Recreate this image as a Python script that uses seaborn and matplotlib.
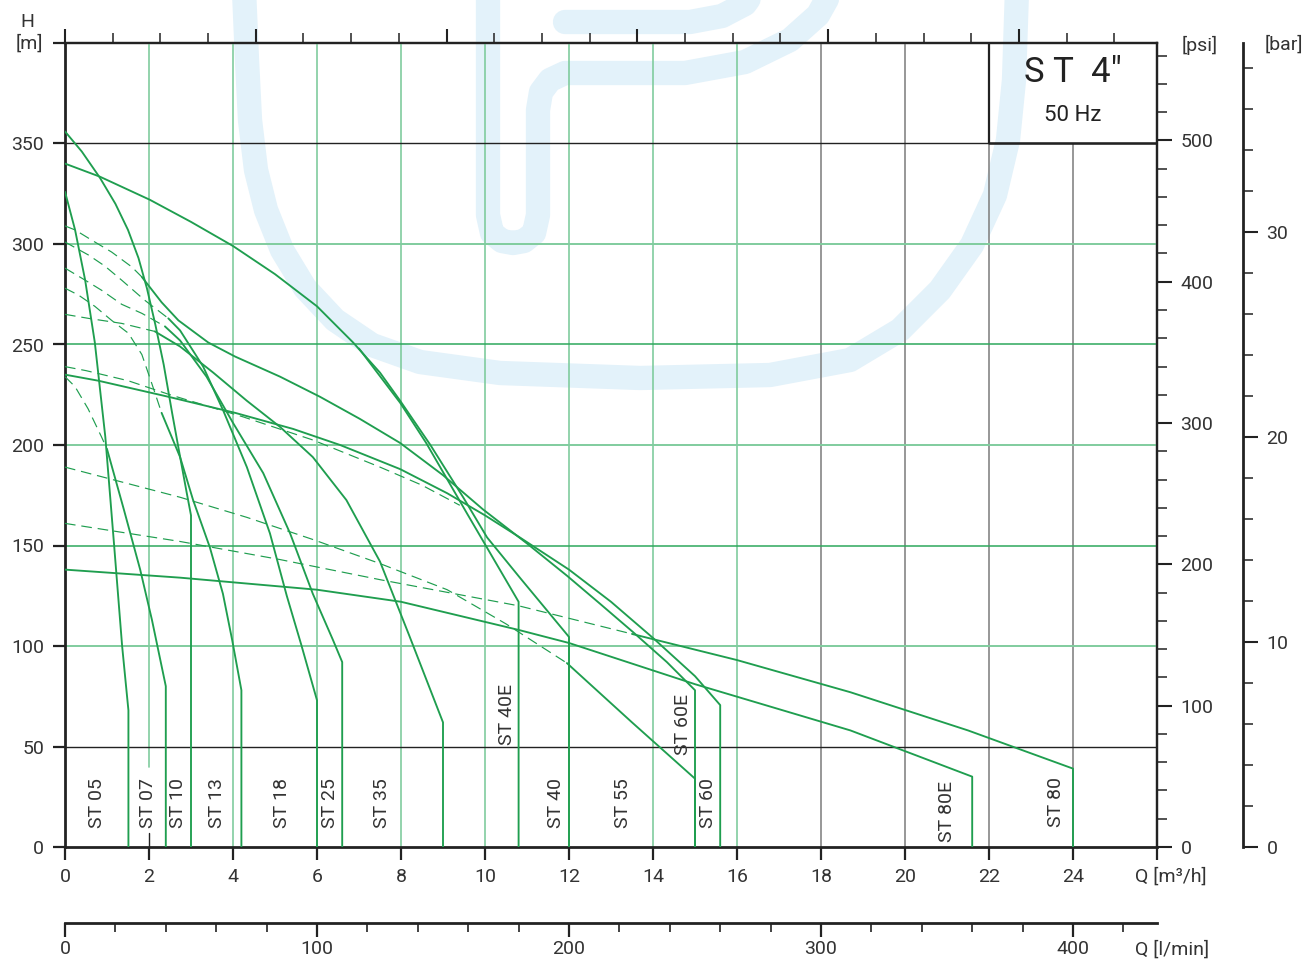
import matplotlib
matplotlib.use("Agg")
import matplotlib.pyplot as plt
from matplotlib.lines import Line2D
from matplotlib.ticker import MultipleLocator
import seaborn as sns

# ---------------- data (Q in m3/h, H in m) ----------------
ST05_Q = [0, 0.24, 0.48, 0.71, 0.96, 1.17, 1.36, 1.51, 1.51]
ST05_H = [326, 307, 282, 251, 204, 150, 100, 68, 0]

ST07_QD = [0, 0.24, 0.55, 0.87, 1.0]
ST07_HD = [234, 229, 218, 204, 198]
ST07_Q = [1.0, 1.4, 1.79, 2.07, 2.4, 2.4]
ST07_H = [198, 168, 138, 113, 80, 0]

ST10_Q = [0, 0.4, 0.83, 1.2, 1.5, 1.75, 1.95, 2.15, 2.35, 2.55, 2.75, 2.9, 3.0, 3.0]
ST10_H = [356, 346, 333, 320, 307, 293, 278, 260, 240, 216, 193, 176, 165, 0]

ST13_QD = [0, 0.32, 0.71, 1.11, 1.51, 1.83, 2.06, 2.3]
ST13_HD = [278, 274.6, 269, 262, 255.6, 245, 231, 216]
ST13_Q = [2.3, 2.74, 3.05, 3.45, 3.76, 3.98, 4.2, 4.2]
ST13_H = [216, 194, 172.6, 149, 126, 103, 78, 0]

ST18_QD = [0, 0.56, 0.95, 1.35, 1.9, 2.46]
ST18_HD = [301, 294.5, 289, 282, 272, 263]
ST18_Q = [2.46, 2.74, 3.29, 3.77, 4.33, 4.88, 5.28, 5.62, 6.0, 6.0]
ST18_H = [263, 257, 239, 217, 189, 156, 125, 101, 73, 0]

ST25_QD = [0, 0.48, 0.87, 1.35, 1.83, 2.38]
ST25_HD = [288, 282, 277, 270, 265.5, 259]
ST25_Q = [2.38, 2.74, 3.37, 4.0, 4.72, 5.36, 5.9, 6.38, 6.6, 6.6]
ST25_H = [259, 252, 234, 211, 186, 156, 126, 103, 92, 0]

ST35_QD = [0, 0.56, 1.35, 2.14]
ST35_HD = [265, 263, 260.5, 256.5]
ST35_Q = [2.14, 2.74, 3.53, 4.33, 5.12, 5.9, 6.7, 7.5, 8.2, 9.0, 9.0]
ST35_H = [256.5, 249, 236, 222, 209, 194, 172.6, 142, 105, 62, 0]

ST40_Q = [0, 0.83, 2.02, 3.0, 4.0, 5.0, 6.0, 6.86, 7.5, 7.98, 8.7, 9.48, 10.05, 10.83, 12.0, 12.0]
ST40_H = [340, 333.5, 322, 311, 299, 285, 269, 251, 236, 222, 200, 174, 154, 134, 104.5, 0]

ST40E_Q = [7.0, 7.98, 8.6, 9.57, 10.8, 10.8]
ST40E_H = [248, 221, 201, 166, 122, 0]

ST55_QD = [0, 2.74, 4.33, 5.9, 7.5, 9.1, 10.5, 11.95]
ST55_HD = [189, 174, 164, 153, 141, 128, 111, 91.5]
ST55_Q = [11.95, 13.5, 15.0, 15.0]
ST55_H = [91.5, 62, 34, 0]

ST60E_QD = [0, 0.24, 0.63, 1.11, 1.59, 1.83]
ST60E_HD = [309, 307, 302, 296, 288.6, 283.6]
ST60E_Q = [1.83, 2.3, 2.7, 3.41, 4.05, 5.12, 6.07, 7.02, 7.98, 9.0, 9.95, 11.0, 11.95, 12.74, 13.52, 14.33, 15.0, 15.0]
ST60E_H = [283.6, 271, 262, 251, 244, 234, 224, 213, 201, 185, 168, 151, 135, 121, 107, 92, 78, 0]

ST60_Q = [0, 0.79, 2.46, 4.05, 5.43, 6.55, 7.98, 9.1, 10.0, 10.83, 12.0, 13.0, 14.0, 15.0, 15.6, 15.6]
ST60_H = [235, 232, 224, 216, 208, 200, 188, 176, 165, 154, 138, 122, 104, 85, 70.6, 0]

AUX_QD = [0, 0.5, 1.5, 2.5, 4.24, 5.9, 7.5, 8.5, 9.4]
AUX_HD = [239, 237, 232, 225, 214, 202.5, 189, 180, 170]

ST80E_Q = [0, 2.74, 6.0, 8.0, 10.8, 12.0, 15.0, 18.7, 21.6, 21.6]
ST80E_H = [138, 134, 128, 122, 108, 101.5, 81, 58, 35, 0]

ST80_QD = [0, 2.74, 5.12, 7.5, 10.8, 13.5]
ST80_HD = [161, 152, 143, 133, 120, 106]
ST80_Q = [13.5, 16.0, 18.7, 21.5, 24.0, 24.0]
ST80_H = [106, 93, 77, 58, 39, 0]

MODEL_NAMES = ["ST 05", "ST 07", "ST 10", "ST 13", "ST 18", "ST 25", "ST 35",
               "ST 40E", "ST 40", "ST 55", "ST 60E", "ST 60", "ST 80E", "ST 80"]
LABEL_Q = [0.76, 1.98, 2.69, 3.62, 5.17, 6.31, 7.55, 10.52, 11.69, 13.29, 14.71, 15.31, 21.0, 23.6]
LABEL_H = [9.5, 9.5, 9.5, 9.5, 9.5, 9.5, 9.5, 50.5, 9.5, 9.5, 46, 9.5, 2.5, 10]

Q_TICKS = [0, 2, 4, 6, 8, 10, 12, 14, 16, 18, 20, 22, 24, 26]
Q_TICK_LABELS = ["0", "2", "4", "6", "8", "10", "12", "14", "16", "18", "20", "22", "24", ""]
H_TICKS = [0, 50, 100, 150, 200, 250, 300, 350, 400]
H_TICK_LABELS = ["0", "50", "100", "150", "200", "250", "300", "350", ""]
PSI_TICKS = [0, 100, 200, 300, 400, 500]
BAR_TICKS = [0, 10, 20, 30]
LMIN_TICKS = [0, 100, 200, 300, 400]

GRID_Q_LIGHT = [4, 6, 8, 10, 12, 14, 16]
GRID_Q_GRAY = [18, 20]
GRID_H_LIGHT = [100, 200, 300]
GRID_H_MED = [150, 250]
GRID_H_BLACK = [50, 350]

# ---------------- styling ----------------
sns.set_theme(style="white")
plt.rcParams["font.family"] = ["Roboto", "DejaVu Sans"]
plt.rcParams["font.weight"] = "normal"

W, H = 1315, 960
GREEN = "#1f9e4f"
LIGHT = "#80cc9e"
MED = "#2ea85c"
GRAY = "#858585"
DARK = "#222222"
TXT = "#333333"
WM = "#e3f2fa"
FS = 14

fig = plt.figure(figsize=(W / 100, H / 100), dpi=100)
fig.patch.set_facecolor("white")

def fx(x):
    return x / W

def fy(y):
    return 1 - y / H

# watermark (decorative logo shapes, figure pixel space)
U_PATH = [(244, -10), (247, 60), (250, 120), (256, 170), (266, 210), (282, 250), (305, 288),
          (335, 320), (372, 345), (420, 362), (500, 373), (640, 378), (770, 375), (850, 360),
          (900, 330), (940, 290), (972, 245), (995, 195), (1008, 140), (1014, 80), (1017, -10)]
J_PATH = [(488, -10), (488, 215), (492, 233), (502, 241), (513, 243), (524, 241), (534, 233),
          (538, 215), (538, 110), (541, 92), (550, 80), (565, 73), (685, 73), (745, 62),
          (790, 40), (818, 15), (832, -10)]
TOP_PATH = [(565, 22), (690, 22), (722, 16), (745, 4), (755, -10)]
for path in (U_PATH, J_PATH, TOP_PATH):
    xs = [fx(p[0]) for p in path]
    ys = [fy(p[1]) for p in path]
    fig.add_artist(Line2D(xs, ys, transform=fig.transFigure, color=WM, lw=17.5,
                          solid_capstyle="round", solid_joinstyle="round", zorder=-5))

ax = fig.add_axes([fx(65), fy(847), (1157 - 65) / W, (847 - 43) / H])
ax.set_facecolor("none")
ax.set_xlim(0, 26)
ax.set_ylim(0, 400)

# grid
for q in GRID_Q_LIGHT:
    ax.axvline(q, color=LIGHT, lw=1.2, zorder=1)
ax.axvline(2, ymin=40 / 400, color=LIGHT, lw=1.2, zorder=1)
ax.axvline(2, ymax=7 / 400, color=DARK, lw=1.0, zorder=1)
for q in GRID_Q_GRAY:
    ax.axvline(q, color=GRAY, lw=1.2, zorder=1)
ax.axvline(22, ymax=350 / 400, color=GRAY, lw=1.2, zorder=1)
ax.axvline(24, ymax=350 / 400, color=GRAY, lw=1.2, zorder=1)
for h in GRID_H_LIGHT:
    ax.axhline(h, color=LIGHT, lw=1.4, zorder=1)
for h in GRID_H_MED:
    ax.axhline(h, color=MED, lw=1.1, zorder=1)
for h in GRID_H_BLACK:
    ax.axhline(h, color=DARK, lw=1.0, zorder=1)

# title box
ax.plot([22, 22], [350, 400], color=DARK, lw=1.6, zorder=2)
ax.plot([22, 26], [350, 350], color=DARK, lw=1.8, zorder=2)
ax.text(24, 385.5, 'S T  4"', ha="center", va="center", fontsize=25, color=DARK)
ax.text(24, 364, "50 Hz", ha="center", va="center", fontsize=16, color=DARK)

# curves
solid = [(ST05_Q, ST05_H), (ST07_Q, ST07_H), (ST10_Q, ST10_H), (ST13_Q, ST13_H),
         (ST18_Q, ST18_H), (ST25_Q, ST25_H), (ST35_Q, ST35_H), (ST40_Q, ST40_H),
         (ST40E_Q, ST40E_H), (ST55_Q, ST55_H), (ST60E_Q, ST60E_H), (ST60_Q, ST60_H),
         (ST80E_Q, ST80E_H), (ST80_Q, ST80_H)]
dashed = [(ST07_QD, ST07_HD), (ST13_QD, ST13_HD), (ST18_QD, ST18_HD), (ST25_QD, ST25_HD),
          (ST35_QD, ST35_HD), (ST55_QD, ST55_HD), (ST60E_QD, ST60E_HD), (AUX_QD, AUX_HD),
          (ST80_QD, ST80_HD)]
for q, h in dashed:
    sns.lineplot(x=q, y=h, ax=ax, color=GREEN, linewidth=0.85, linestyle=(0, (9, 5)),
                 sort=False, estimator=None, legend=False, zorder=4)
for q, h in solid:
    sns.lineplot(x=q, y=h, ax=ax, color=GREEN, linewidth=1.35, sort=False,
                 estimator=None, legend=False, zorder=5)

for name, q, h in zip(MODEL_NAMES, LABEL_Q, LABEL_H):
    ax.text(q, h, name, rotation=90, ha="center", va="bottom", fontsize=FS,
            color=TXT, zorder=6)

# main axes styling
for side, lw in (("left", 2.0), ("bottom", 2.0), ("top", 1.6), ("right", 1.6)):
    ax.spines[side].set_visible(True)
    ax.spines[side].set_linewidth(lw)
    ax.spines[side].set_color(DARK)
ax.set_xticks(Q_TICKS)
ax.set_xticklabels(Q_TICK_LABELS)
ax.set_yticks(H_TICKS)
ax.set_yticklabels(H_TICK_LABELS)
ax.tick_params(axis="both", which="major", direction="out", length=9, width=1.6,
               color=DARK, labelsize=FS, labelcolor=TXT, pad=6,
               bottom=True, left=True, top=False, right=False)
ax.set_xlabel("")
ax.set_ylabel("")

# top axis (US gpm ticks, no labels)
top = ax.secondary_xaxis("top", functions=(lambda q: q * 4.40287, lambda g: g / 4.40287))
top.xaxis.set_major_locator(MultipleLocator(20))
top.xaxis.set_minor_locator(MultipleLocator(5))
top.tick_params(which="major", direction="out", length=10, width=1.5, color=DARK,
                labeltop=False)
top.tick_params(which="minor", direction="out", length=7, width=1.1, color=DARK)
top.spines["top"].set_linewidth(1.6)
top.spines["top"].set_color(DARK)

# psi axis
psi = ax.secondary_yaxis("right", functions=(lambda h: h * 1.42233, lambda p: p / 1.42233))
psi.set_yticks(PSI_TICKS)
psi.yaxis.set_minor_locator(MultipleLocator(20))
psi.tick_params(which="major", direction="out", length=11, width=1.5, color=DARK,
                labelsize=FS, labelcolor=TXT, pad=6)
psi.tick_params(which="minor", direction="out", length=7, width=1.1, color=DARK)
psi.spines["right"].set_linewidth(1.6)
psi.spines["right"].set_color(DARK)

# bar axis
bar = ax.secondary_yaxis(1 + (1243 - 1157) / (1157 - 65),
                         functions=(lambda h: h * 0.0980665, lambda b: b / 0.0980665))
bar.set_yticks(BAR_TICKS)
bar.yaxis.set_minor_locator(MultipleLocator(2))
bar.tick_params(which="major", direction="out", length=11, width=1.5, color=DARK,
                labelsize=FS, labelcolor=TXT, pad=6)
bar.tick_params(which="minor", direction="out", length=7, width=1.1, color=DARK)
bar.spines["right"].set_linewidth(2.0)
bar.spines["right"].set_color(DARK)

# l/min axis
lmin = ax.secondary_xaxis(-(923 - 847) / (847 - 43),
                          functions=(lambda q: q * 1000 / 60, lambda l: l * 60 / 1000))
lmin.set_xticks(LMIN_TICKS)
lmin.xaxis.set_minor_locator(MultipleLocator(20))
lmin.tick_params(which="major", direction="out", length=10, width=1.6, color=DARK,
                 labelsize=FS, labelcolor=TXT, pad=2)
lmin.tick_params(which="minor", direction="out", length=6.5, width=1.2, color=DARK)
lmin.spines["bottom"].set_linewidth(2.0)
lmin.spines["bottom"].set_color(DARK)

# unit labels
fig.text(fx(27), fy(22), "H", ha="center", va="center", fontsize=FS, color=TXT)
fig.text(fx(29), fy(44), "[m]", ha="center", va="center", fontsize=FS, color=TXT)
fig.text(fx(1200), fy(45), "[psi]", ha="center", va="center", fontsize=FS, color=TXT)
fig.text(fx(1265), fy(45), "[bar]", ha="left", va="center", fontsize=FS, color=TXT)
fig.text(fx(1171), fy(877), "Q [m\u00b3/h]", ha="center", va="center", fontsize=FS, color=TXT)
fig.text(fx(1172), fy(950), "Q [l/min]", ha="center", va="center", fontsize=FS, color=TXT)

fig.savefig("out.png", dpi=100, facecolor="white")
